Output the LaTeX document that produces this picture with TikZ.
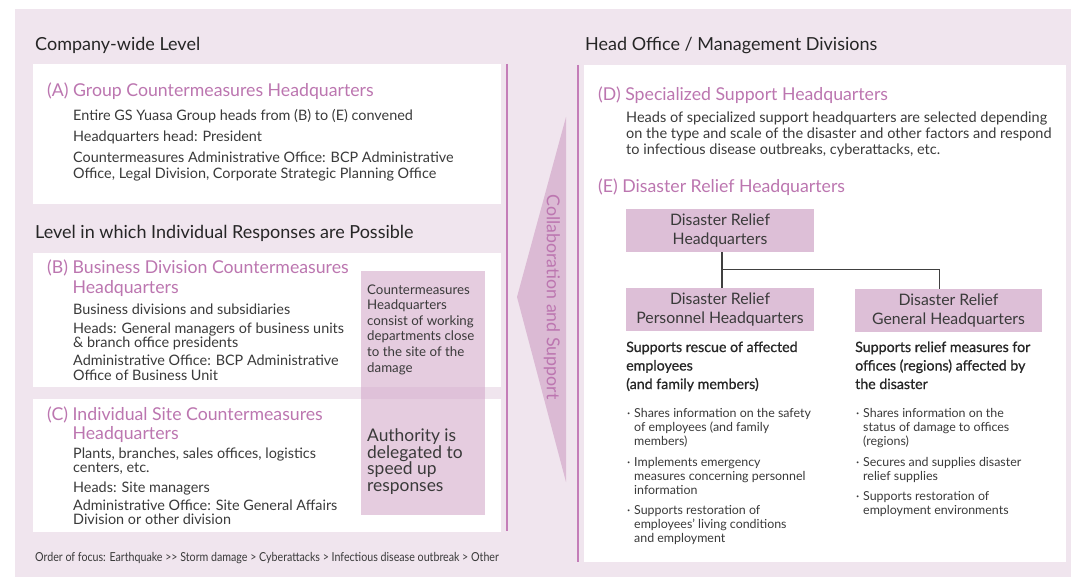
\documentclass[tikz,border=0pt]{standalone}
\usepackage{fontspec}
\setmainfont{Lato}
\newfontfamily\condfont[FakeStretch=0.86]{Lato}
\newfontfamily\medfont[FakeBold=0.7]{Lato}
\usetikzlibrary{calc}

\definecolor{bg}{HTML}{F0E5EE}
\definecolor{ink}{HTML}{3A3A3A}
\definecolor{plum}{HTML}{BC76B0}
\definecolor{rule}{HTML}{C47DB8}
\definecolor{boxfill}{HTML}{DDBFD7}
\definecolor{arrowfill}{HTML}{DBBAD4}
\definecolor{band}{HTML}{D4AACB}

\begin{document}
% Multi-line text nodes are placed by the baseline of their last line.
\begin{tikzpicture}[x=1pt,y=-1pt,
  txt/.style={anchor=base west, inner sep=0, text=ink, align=left},
  head/.style={txt, font=\fontsize{18}{20}\selectfont, text=black!85},
  ttl/.style={txt, text=plum, font=\fontsize{17.7}{19.5}\selectfont},
  body/.style={txt, font=\fontsize{14.4}{14}\selectfont},
  bodyA/.style={txt, font=\fontsize{14.4}{16}\selectfont},
  note/.style={txt, font=\fontsize{13.3}{15.6}\selectfont},
  noteL/.style={txt, font=\fontsize{17.4}{16.4}\selectfont},
  hq/.style={fill=boxfill, inner sep=0, minimum width=188, minimum height=43,
    text=ink, align=center, font=\fontsize{15.8}{19}\selectfont},
  sup/.style={txt, font=\medfont\fontsize{14.2}{18.5}\selectfont, text=black!85},
  bul/.style={txt, font=\fontsize{12.4}{14}\selectfont},
  link/.style={draw=black!75, line width=1.1pt},
  vrule/.style={draw=rule, line width=1.2pt}]

\useasboundingbox (0,0) rectangle (1071,577);

% page background
\fill[bg] (15,9) rectangle (1071,577);

% ---------- left column ----------
\node[head] (lvlA) at (35,51) {Company-wide Level};
\fill[white] (33,64) rectangle (501,204);
\node[ttl] (tA) at (47,97) {(A) Group Countermeasures Headquarters};
\node[bodyA] (a1) at (73,121) {Entire GS Yuasa Group heads from (B) to (E) convened};
\node[bodyA] (a2) at (73,142) {Headquarters head: President};
\node[bodyA] (a3) at (73,179) {Countermeasures Administrative Office: BCP Administrative\\Office, Legal Division, Corporate Strategic Planning Office};

\node[head] (lvlB) at (35,239) {Level in which Individual Responses are Possible};
\fill[white] (33,253) rectangle (501,387);
\fill[white] (33,399) rectangle (501,532);

\node[ttl] (tB) at (47,293.5) {(B) Business Division Countermeasures\\\phantom{(B) }Headquarters};
\node[body] (b1) at (73,315) {Business divisions and subsidiaries};
\node[body] (b2) at (73,348) {Heads: General managers of business units\\\& branch office presidents};
\node[body] (b3) at (73,380) {Administrative Office: BCP Administrative\\Office of Business Unit};

\node[ttl] (tC) at (47,439.5) {(C) Individual Site Countermeasures\\\phantom{(C) }Headquarters};
\node[body] (c1) at (73,472) {Plants, branches, sales offices, logistics\\centers, etc.};
\node[body] (c2) at (73,492) {Heads: Site managers};
\node[body] (c3) at (73,524) {Administrative Office: Site General Affairs\\Division or other division};

% translucent band across (B) and (C)
\fill[band, fill opacity=0.6] (361,271) rectangle (485,515);
\node[note] (n1) at (367,372) {Countermeasures\\Headquarters\\consist of working\\departments close\\to the site of the\\damage};
\node[noteL] (n2) at (367,491) {Authority is\\delegated to\\speed up\\responses};

\node[txt, font=\condfont\fontsize{12.4}{13}\selectfont] (order) at (35,561)
  {Order of focus: Earthquake >> Storm damage > Cyberattacks > Infectious disease outbreak > Other};

% ---------- collaboration arrow ----------
\draw[vrule] (507,64) -- (507,531);
\draw[vrule] (578,65) -- (578,562);
\fill[arrowfill] (566,117) -- (517,297) -- (566,482) -- cycle;
\node[rotate=-90, text=plum, inner sep=0, font=\fontsize{17.8}{20}\selectfont] (collab) at (552,297) {Collaboration and Support};

% ---------- right column ----------
\node[head] (lvlR) at (585,51) {Head Office / Management Divisions};
\fill[white] (584,65) rectangle (1066,562);

\node[ttl] (tD) at (598,101) {(D) Specialized Support Headquarters};
\node[txt, font=\fontsize{14.5}{16}\selectfont] (d1) at (626,155)
  {Heads of specialized support headquarters are selected depending\\on the type and scale of the disaster and other factors and respond\\to infectious disease outbreaks, cyberattacks, etc.};

\node[ttl] (tE) at (598,193) {(E) Disaster Relief Headquarters};

\node[hq] (top) at (720,230.5) {Disaster Relief\\Headquarters};
\node[hq] (pers) at (720,309.5) {Disaster Relief\\Personnel Headquarters};
\node[hq, minimum width=187] (gen) at (948.5,310.5) {Disaster Relief\\General Headquarters};

\coordinate (fork) at ($(top.south)+(2,17)$);
\draw[link] (top.south -| fork) -- (pers.north -| fork);
\draw[link] (fork) -| ($(gen.north)+(-9,0)$);

\node[sup] (s1) at (626,389) {Supports rescue of affected\\employees\\(and family members)};
\node[sup] (s2) at (855,389) {Supports relief measures for\\offices (regions) affected by\\the disaster};

% personnel duties
\node[bul] (p1b) at (627,417) {·};
\node[bul] (p1) at (634,445) {Shares information on the safety\\of employees (and family\\members)};
\node[bul] (p2b) at (627,466) {·};
\node[bul] (p2) at (634,494) {Implements emergency\\measures concerning personnel\\information};
\node[bul] (p3b) at (627,514) {·};
\node[bul] (p3) at (634,542) {Supports restoration of\\employees’ living conditions\\and employment};

% general duties
\node[bul] (g1b) at (856,417) {·};
\node[bul] (g1) at (863,445) {Shares information on the\\status of damage to offices\\(regions)};
\node[bul] (g2b) at (856,466) {·};
\node[bul] (g2) at (863,480) {Secures and supplies disaster\\relief supplies};
\node[bul] (g3b) at (856,500) {·};
\node[bul] (g3) at (863,514) {Supports restoration of\\employment environments};

\end{tikzpicture}
\end{document}
